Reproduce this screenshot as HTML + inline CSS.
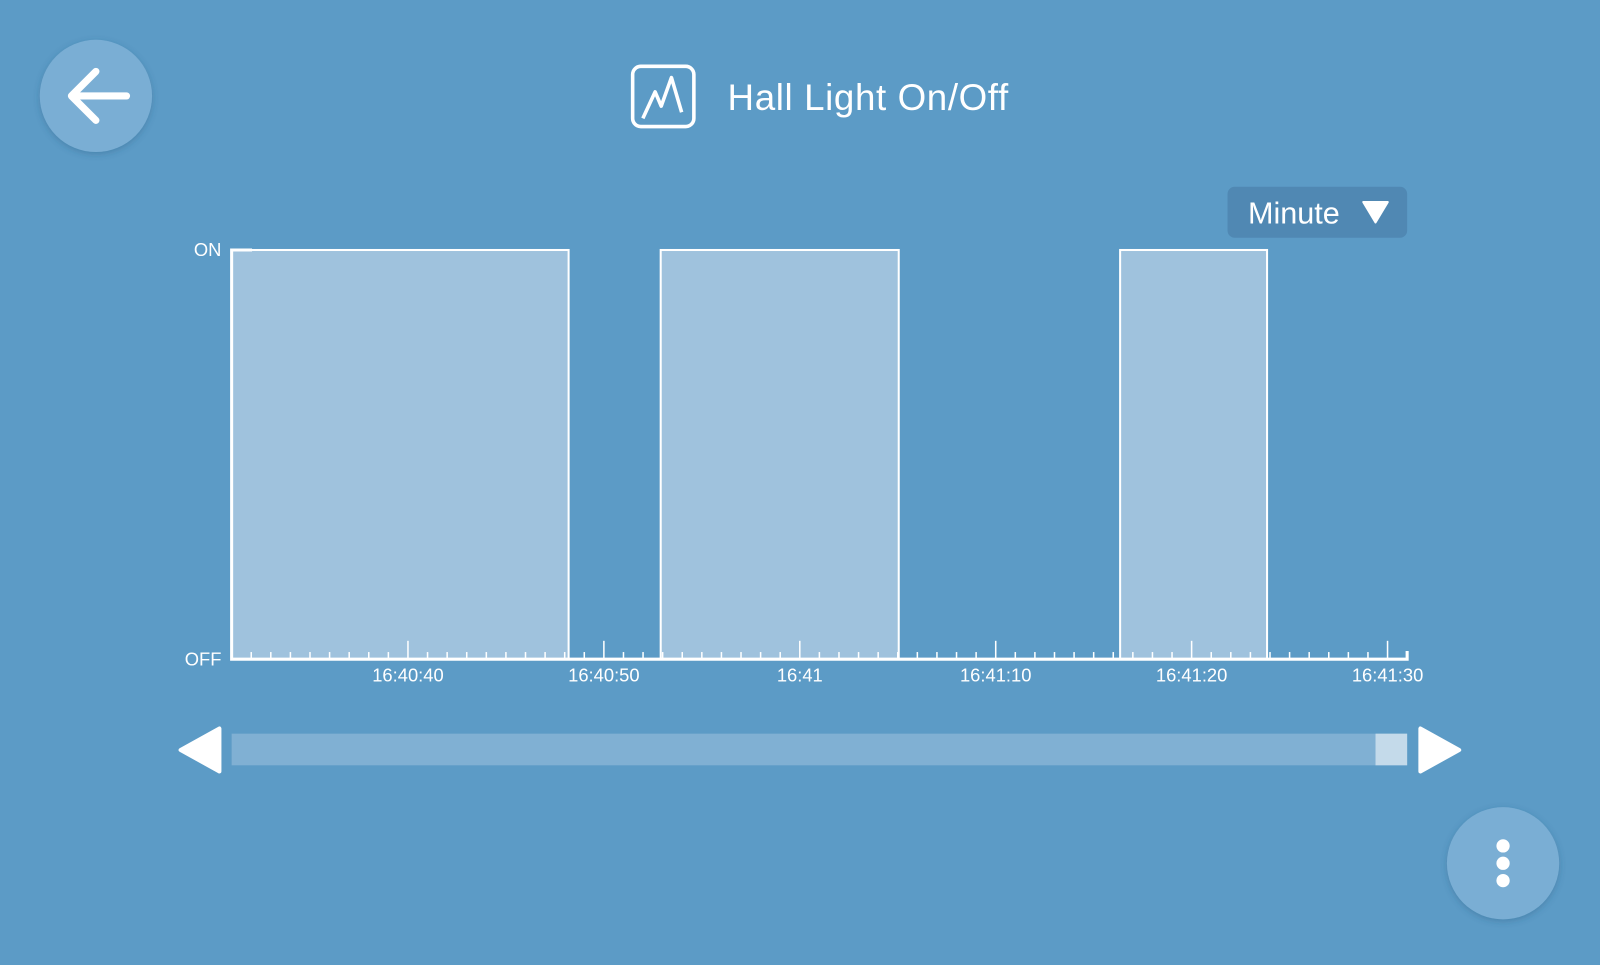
<!DOCTYPE html>
<html><head><meta charset="utf-8"><style>
html,body{margin:0;padding:0;width:1600px;height:960px;overflow:hidden;background:#5c9bc6;font-family:"Liberation Sans",sans-serif;}
#wrap{position:absolute;left:0;top:0;width:1568px;height:941px;transform:scale(1.020408);transform-origin:0 0;}
</style></head><body>
<div id="wrap">
<svg width="1568" height="941" viewBox="0 0 1568 941" xmlns="http://www.w3.org/2000/svg" id="svg">
  <defs>
    <filter id="sh" x="-30%" y="-30%" width="160%" height="160%"><feDropShadow dx="0" dy="2" stdDeviation="3" flood-color="#2a5a80" flood-opacity="0.35"/></filter>
  </defs>
  <g>
    <circle cx="94" cy="94" r="55" fill="#7aaed4" filter="url(#sh)"/>
    <path d="M70 94 H124 M94 70 L70 94 L94 118" stroke="#fff" stroke-width="7" fill="none" stroke-linecap="round" stroke-linejoin="round"/>
  </g>
  <g>
    <rect x="620" y="65" width="60" height="59" rx="8" fill="none" stroke="#fff" stroke-width="3.5"/>
    <path d="M630 116 L642 90 L648 104 L658 76 L668 110" fill="none" stroke="#fff" stroke-width="3.5" stroke-linejoin="round"/>
  </g>
  <text x="713" y="108" font-size="36" textLength="275" fill="#fff">Hall Light On/Off</text>
  <g>
    <rect x="1203" y="183" width="176" height="50" rx="7" fill="#5088b3"/>
    <text x="1223" y="219" font-size="30" fill="#fff">Minute</text>
    <path d="M1336 198 L1360 198 L1348 218 Z" fill="#fff" stroke="#fff" stroke-width="2" stroke-linejoin="round"/>
  </g>
  <g id="plot"></g>
  <g>
    <rect x="227" y="719" width="1152" height="31" fill="#80b0d3"/>
    <rect x="1348" y="719" width="31" height="31" fill="#c4daea"/>
  </g>
  <path d="M215 714 L215 756 L177 735 Z" fill="#fff" stroke="#fff" stroke-width="4" stroke-linejoin="round"/>
  <path d="M1392 714 L1392 756 L1430 735 Z" fill="#fff" stroke="#fff" stroke-width="4" stroke-linejoin="round"/>
  <g>
    <circle cx="1473" cy="846" r="55" fill="#7aaed4" filter="url(#sh)"/>
    <circle cx="1473" cy="829" r="6.5" fill="#fff"/>
    <circle cx="1473" cy="846" r="6.5" fill="#fff"/>
    <circle cx="1473" cy="863" r="6.5" fill="#fff"/>
  </g>
</svg>
</div>
<script>
// seconds after 16:40:00
const onStarts = [31, 52.9, 76.35];
const onEnds = [48.2, 65.05, 83.85];
const tickLabels = ["16:40:40","16:40:50","16:41","16:41:10","16:41:20","16:41:30"];
const tickValues = [40, 50, 60, 70, 80, 90];
const yLabels = ["OFF","ON"];
const domainMin = 31, domainMax = 91;

const NS = "http://www.w3.org/2000/svg";
const L = 227, R = 1379, T = 245, B = 646;
const xs = v => L + (v - domainMin) / (domainMax - domainMin) * (R - L);
const ys = v => B - v * (B - T);
const plot = document.getElementById('plot');
function mk(tag, attrs){ const e = document.createElementNS(NS, tag); for (const k in attrs) e.setAttribute(k, attrs[k]); plot.appendChild(e); return e; }

for (let i = 0; i < onStarts.length; i++) {
  const x0 = xs(onStarts[i]), x1 = xs(onEnds[i]);
  const r = mk('rect', {x: x0, y: ys(1), width: x1 - x0, height: ys(0) - ys(1), fill: '#9fc2dd', stroke: '#fff', 'stroke-width': 2});
  
  
}
for (let s = Math.ceil(domainMin) + 1; s <= domainMax; s++) {
  const major = tickValues.includes(s);
  const x = xs(s);
  const t = mk('line', {x1: x, x2: x, y1: B, y2: B - (major ? 18 : 7), stroke: '#fff', 'stroke-width': 1.5});
  
  
}
tickValues.forEach((v, i) => {
  const t = mk('text', {x: xs(v), y: B + 22, 'font-size': 18, fill: '#fff', 'text-anchor': 'middle', 'font-weight': 500});
  t.textContent = tickLabels[i];
  
  
});
const ax = mk('path', {d: `M${L+20} ${T} H${L} V${B} H${R} V${B-8}`, fill: 'none', stroke: '#fff', 'stroke-width': 3});


yLabels.forEach((lab, i) => {
  const t = mk('text', {x: 217, y: ys(i) + 6, 'font-size': 18, fill: '#fff', 'text-anchor': 'end', 'font-weight': 500});
  t.textContent = lab;
  
  
});
</script>
</body></html>
